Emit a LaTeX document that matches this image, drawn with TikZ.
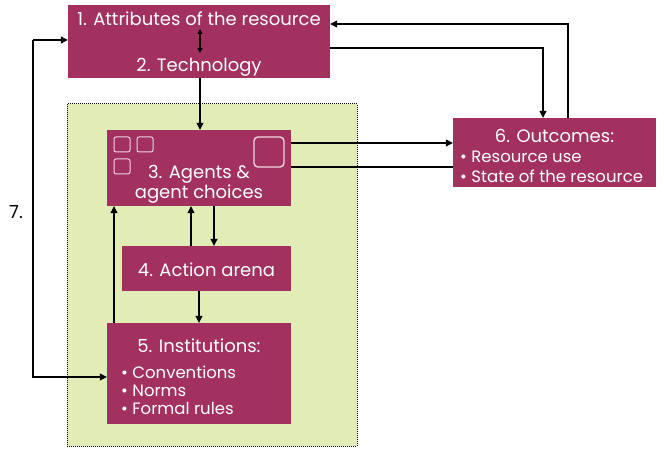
\documentclass[tikz,border=0pt]{standalone}
\usepackage{fontspec}
\setmainfont{Poppins}
\usetikzlibrary{arrows.meta}
\definecolor{boxc}{HTML}{A3315F}
\definecolor{greenc}{HTML}{E1ECB6}
\tikzset{
  mbox/.style={fill=boxc,draw=none,inner sep=0pt},
  wtext/.style={text=white,font=\fontsize{18}{20}\selectfont,inner sep=0pt},
  conn/.style={draw=black,line width=1.1pt},
  arr/.style={conn,-{Triangle[length=7pt,width=7pt]}},
  darr/.style={conn,{Triangle[length=5pt,width=5pt]}-{Triangle[length=5pt,width=5pt]}},
  sq/.style={draw=white!80!boxc,line width=1pt,rounded corners=2pt},
}
\begin{document}
\begin{tikzpicture}[x=1pt,y=-1pt]
\useasboundingbox (0,0) rectangle (664,449);
% green area
\fill[greenc] (67,104) rectangle (357,446);
\draw[black,line width=1pt,densely dotted] (67,104) rectangle (357,446);
% boxes
\node[mbox,minimum width=262pt,minimum height=73pt] (b1) at (199,41.5) {};
\node[mbox,minimum width=184pt,minimum height=76pt] (b3) at (199,168) {};
\node[mbox,minimum width=169pt,minimum height=45pt] (b4) at (206.5,268.5) {};
\node[mbox,minimum width=184pt,minimum height=101pt] (b5) at (199,373.5) {};
\node[mbox,minimum width=203pt,minimum height=69pt] (b6) at (554.5,152.5) {};
% texts
\node[wtext] (t1) at (199,19) {1. Attributes of the resource};
\node[wtext] (t2) at (199,67) {2. Technology};
\node[wtext,align=center,font=\fontsize{18}{20}\selectfont] (t3) at (199,184) {3. Agents \&\\agent choices};
\node[wtext] (t4) at (206.5,270) {4. Action arena};
\node[wtext] (t5) at (199,346) {5. Institutions:};
\node[wtext,anchor=west,align=left,font=\fontsize{16.5}{18}\selectfont] (t5b) at (121,390) {• Conventions\\• Norms\\• Formal rules};
\node[wtext] (t6) at (554.5,136) {6. Outcomes:};
\node[wtext,anchor=west,align=left,font=\fontsize{16.5}{20}\selectfont] (t6b) at (460,167) {• Resource use\\• State of the resource};
\node[inner sep=0pt,font=\fontsize{18}{20}\selectfont] (t7) at (16,212) {7.};
% small squares
\draw[sq] (114,137) rectangle (130,152);
\draw[sq] (137,137) rectangle (153,152);
\draw[sq] (114,159) rectangle (130,174);
\draw[sq,line width=1.4pt,rounded corners=4pt] (254,137) rectangle (284,167);
% internal double arrow
\coordinate (d1) at (200,29);
\coordinate (d2) at (200,53);
\draw[conn,line width=0.9pt,darr] (d1) -- (d2);
% connectors
\draw[arr] (b1.south -| 200,0) -- (b3.north -| 200,0);
\draw[arr] (b4.north -| 191,0) -- (b3.south -| 191,0);
\draw[arr] (b3.south -| 214,0) -- (b4.north -| 214,0);
\draw[arr] (b4.south -| 199,0) -- (b5.north -| 199,0);
\draw[arr] (b5.north -| 114,0) -- (b3.south -| 114,0);
\draw[arr] (b3.east |- 0,143) -- (b6.west |- 0,143);
\draw[conn] (b3.east |- 0,167) -- (b6.west |- 0,167);
\draw[arr] (b6.north -| 568,0) -- (568,24) -- (b1.east |- 0,24);
\draw[arr] (b1.east |- 0,48) -- (543,48) -- (b6.north -| 543,0);
\coordinate (lc) at (33,40);
\draw[arr] (lc) -- (b1.west |- lc);
\draw[arr] (lc) -- (33,377) -- (b5.west |- 0,377);
\end{tikzpicture}
\end{document}
